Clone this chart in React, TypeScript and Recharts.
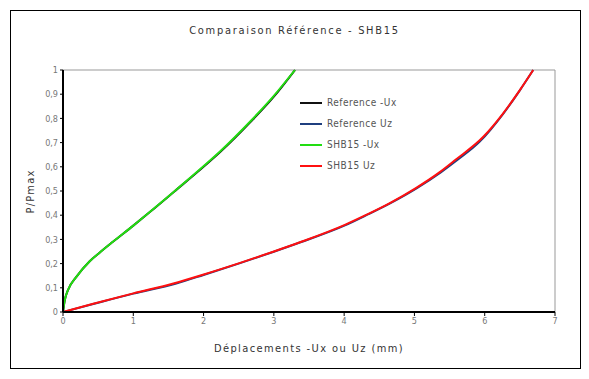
import { LineChart, Line, XAxis, YAxis, ReferenceLine } from 'recharts';

// SHB15 results and reference solution, P/Pmax vs displacement (mm)
const shbUxX = [0, 0.024, 0.07, 0.19, 0.38, 0.52, 0.71, 1.0, 1.23, 1.57, 1.99, 2.23, 2.66, 2.99, 3.3];
const shbUxP = [0, 0.048, 0.09, 0.145, 0.21, 0.245, 0.29, 0.357, 0.412, 0.495, 0.6, 0.662, 0.786, 0.89, 1.0];

const refUxX = [0, 0.025, 0.07, 0.19, 0.38, 0.52, 0.71, 1.0, 1.24, 1.58, 2.0, 2.24, 2.67, 3.0, 3.3];
const refUxP = [0, 0.048, 0.09, 0.145, 0.21, 0.245, 0.29, 0.357, 0.414, 0.497, 0.6, 0.662, 0.786, 0.89, 1.0];

const shbUzX = [0, 0.43, 1.0, 1.57, 1.99, 2.52, 2.99, 3.37, 4.01, 4.32, 4.65, 5.02, 5.36, 5.58, 5.98, 6.26, 6.5, 6.69];
const shbUzP = [0, 0.034, 0.077, 0.118, 0.154, 0.203, 0.249, 0.288, 0.36, 0.402, 0.45, 0.512, 0.578, 0.628, 0.724, 0.82, 0.917, 1.0];

const refUzX = [0, 0.43, 1.0, 1.6, 2.0, 2.52, 3.0, 3.38, 4.02, 4.33, 4.66, 5.03, 5.37, 5.62, 5.93, 6.26, 6.5, 6.69];
const refUzP = [0, 0.033, 0.076, 0.117, 0.153, 0.202, 0.249, 0.288, 0.359, 0.402, 0.45, 0.511, 0.576, 0.63, 0.704, 0.818, 0.916, 1.0];

const xTicks = [0, 1, 2, 3, 4, 5, 6, 7];
const yTicks = [0, 0.1, 0.2, 0.3, 0.4, 0.5, 0.6, 0.7, 0.8, 0.9, 1];

const series = [
  { name: 'Reference -Ux', color: '#111111', xs: refUxX, ps: refUxP },
  { name: 'Reference Uz', color: '#1f3f7f', xs: refUzX, ps: refUzP },
  { name: 'SHB15 -Ux', color: '#22dd11', xs: shbUxX, ps: shbUxP },
  { name: 'SHB15 Uz', color: '#ff1010', xs: shbUzX, ps: shbUzP },
];

const toPoints = (xs: number[], ps: number[]) => xs.map((x, i) => ({ x, p: ps[i] }));

const FONT = "'Liberation Sans Narrow', 'DejaVu Sans Condensed', 'Liberation Sans', sans-serif";

// legend is plain html so the chart doesn't reserve room for it
function LegendBox() {
  return (
    <div style={{ position: 'absolute', left: 300, top: 92, fontFamily: FONT, fontSize: 10, color: '#555', letterSpacing: 0.5 }}>
      {series.map((s) => (
        <div key={s.name} style={{ display: 'flex', alignItems: 'center', height: 21 }}>
          <div style={{ width: 22, height: 2, background: s.color, marginRight: 5 }} />
          <span>{s.name}</span>
        </div>
      ))}
    </div>
  );
}

export default function App() {
  return (
    <div style={{ position: 'absolute', left: 0, top: 0, width: 589, height: 379, background: '#fff' }}>
      <div style={{ position: 'absolute', left: 10, top: 10, width: 569, height: 357, border: '1px solid #000' }} />
      <div style={{ position: 'absolute', left: 0, top: 24, width: 589, textAlign: 'center', fontFamily: FONT, fontSize: 11, letterSpacing: 1.7, color: '#333' }}>
        Comparaison Référence - SHB15
      </div>
      <div style={{ position: 'absolute', left: 0, top: 342, width: 618, textAlign: 'center', fontFamily: FONT, fontSize: 11, letterSpacing: 1.4, color: '#333' }}>
        Déplacements -Ux ou Uz (mm)
      </div>
      <div style={{ position: 'absolute', left: 30, top: 192, width: 0, height: 0 }}>
        <div style={{ position: 'absolute', left: -40, top: -7, width: 80, textAlign: 'center', transform: 'rotate(-90deg)', fontFamily: FONT, fontSize: 11, letterSpacing: 1.2, color: '#333' }}>
          P/Pmax
        </div>
      </div>
      <div style={{ position: 'absolute', left: 0, top: 0 }}>
        <LineChart width={589} height={379} margin={{ top: 70, right: 34, bottom: 37, left: 0 }}>
          <XAxis
            type="number"
            dataKey="x"
            domain={[0, 7]}
            ticks={xTicks}
            interval={0}
            height={30}
            axisLine={{ stroke: '#000', strokeWidth: 2 }}
            tickLine={{ stroke: '#000' }}
            tickSize={4}
            tick={{ fill: '#777', fontSize: 9, fontFamily: FONT }}
          />
          <YAxis
            type="number"
            dataKey="p"
            domain={[0, 1]}
            ticks={yTicks}
            interval={0}
            width={63}
            axisLine={{ stroke: '#000', strokeWidth: 2 }}
            tickLine={{ stroke: '#000' }}
            tickSize={3}
            tick={{ fill: '#777', fontSize: 9, fontFamily: FONT }}
            tickFormatter={(v: number) => String(Math.round(v * 10) / 10).replace('.', ',')}
          />
          <ReferenceLine y={1} stroke="#999" strokeWidth={1} />
          <ReferenceLine x={7} stroke="#999" strokeWidth={1} />
          {series.map((s) => (
            <Line
              key={s.name}
              data={toPoints(s.xs, s.ps)}
              dataKey="p"
              name={s.name}
              type="monotone"
              stroke={s.color}
              strokeWidth={2}
              dot={false}
              isAnimationActive={false}
            />
          ))}
        </LineChart>
      </div>
      <LegendBox />
    </div>
  );
}
